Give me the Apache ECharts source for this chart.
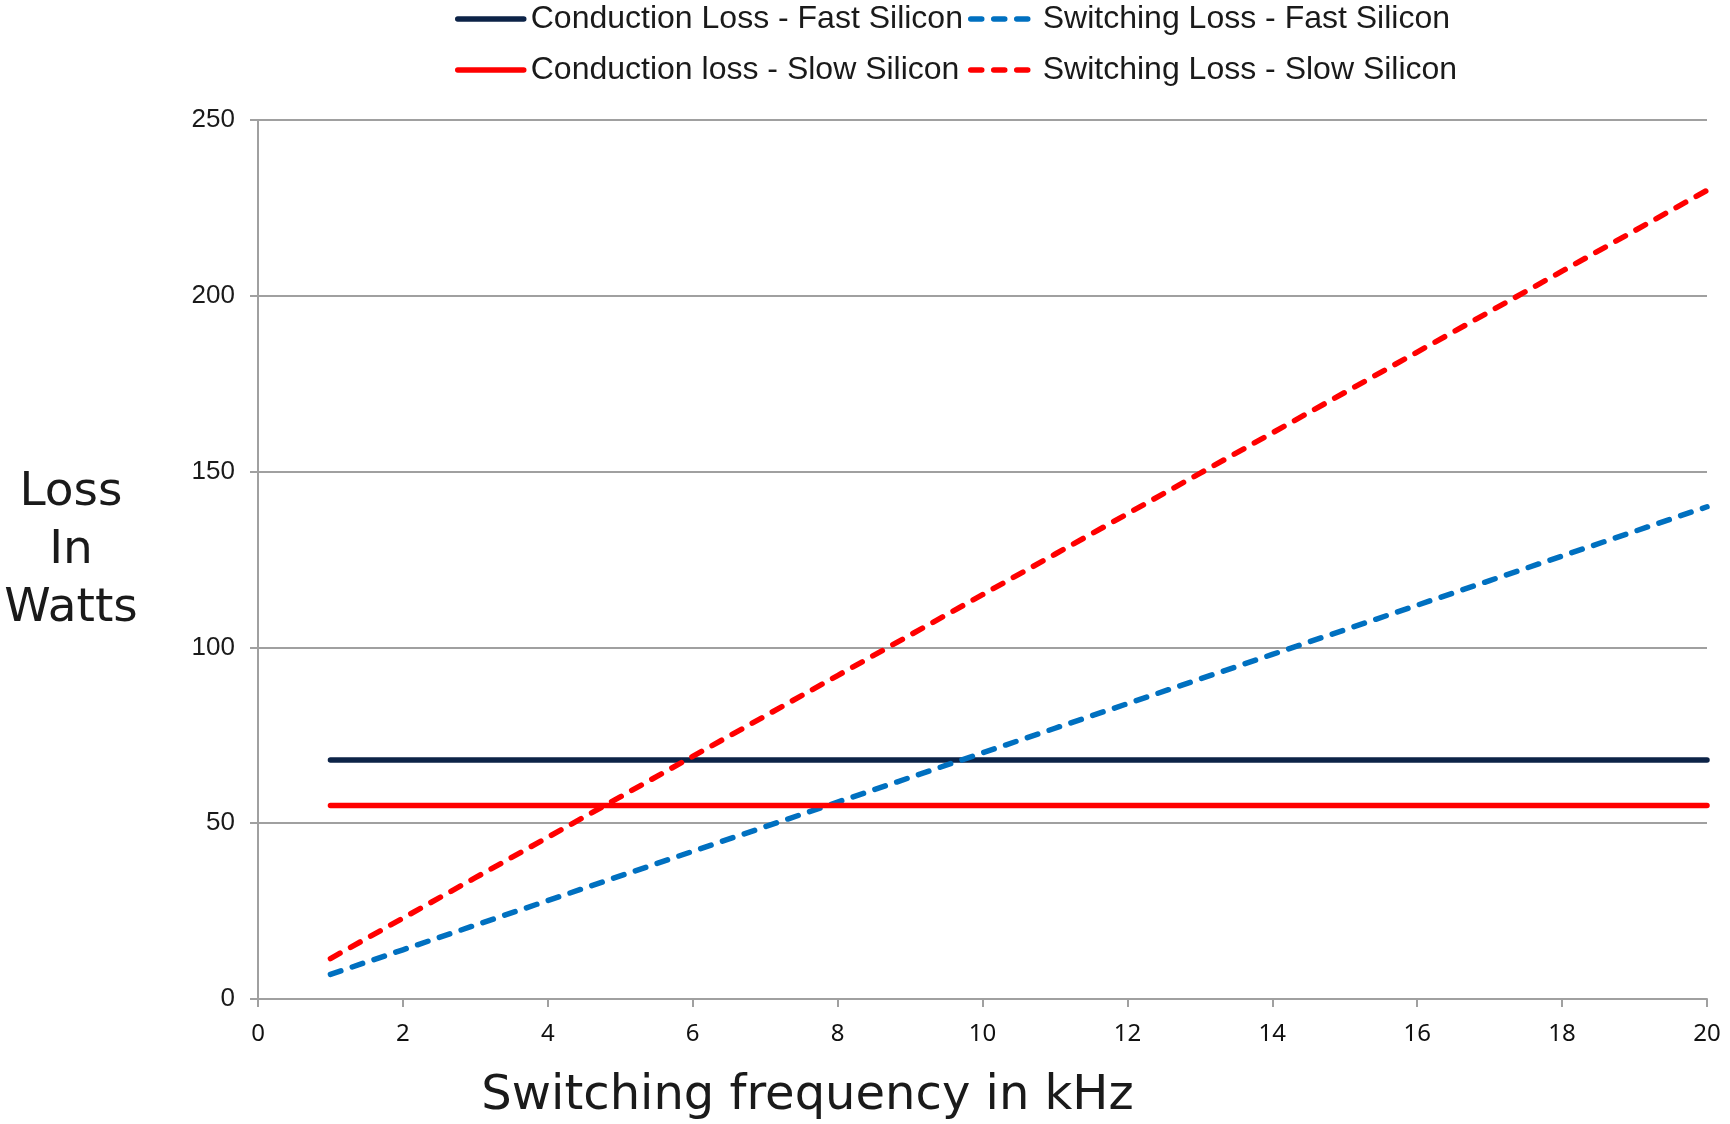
<!DOCTYPE html>
<html>
<head>
<meta charset="utf-8">
<script src="https://cdn.jsdelivr.net/npm/echarts@6/dist/echarts.min.js"></script>
<style>
  html, body { margin: 0; padding: 0; background: #ffffff; }
  #chart { width: 1730px; height: 1124px; }
</style>
</head>
<body>
<div id="chart"></div>
<script>
// Switching frequency (kHz)
const frequency = [1, 2, 3, 4, 5, 6, 7, 8, 9, 10, 11, 12, 13, 14, 15, 16, 17, 18, 19, 20];

// Losses in watts
const conductionFast = [68, 68, 68, 68, 68, 68, 68, 68, 68, 68, 68, 68, 68, 68, 68, 68, 68, 68, 68, 68];
const conductionSlow = [55, 55, 55, 55, 55, 55, 55, 55, 55, 55, 55, 55, 55, 55, 55, 55, 55, 55, 55, 55];
const switchingFast = [7, 14, 21, 28, 35, 42, 49, 56, 63, 70, 77, 84, 91, 98, 105, 112, 119, 126, 133, 140];
const switchingSlow = [11.5, 23, 34.5, 46, 57.5, 69, 80.5, 92, 103.5, 115, 126.5, 138, 149.5, 161, 172.5, 184, 195.5, 207, 218.5, 230];

const seriesNames = [
  'Conduction Loss - Fast Silicon',
  'Switching Loss - Fast Silicon',
  'Conduction loss - Slow Silicon',
  'Switching Loss - Slow Silicon'
];

const xTicks = { min: 0, max: 20, interval: 2 };
const yTicks = { min: 0, max: 250, interval: 50 };

const xTitle = 'Switching frequency in kHz';
const yTitle = 'Loss\nIn\nWatts';

const pairs = (ys) => frequency.map((f, i) => [f, ys[i]]);

const chart = echarts.init(document.getElementById('chart'), null, { renderer: 'canvas' });

// one legend per key so each column lines up; solid keys are longer than dashed keys
function legendItem(name, left, top, keyWidth, textGap) {
  return {
    data: [name],
    left: left, top: top,
    padding: 0,
    itemWidth: keyWidth, itemHeight: 30,
    textStyle: {
      fontFamily: '"Liberation Sans", Arial, sans-serif',
      fontSize: 32, color: '#1a1a1a',
      padding: [0, 0, 0, textGap]
    },
    itemStyle: { opacity: 0 },
    lineStyle: { width: 5.5, cap: 'round' }
  };
}

function lineSeries(name, data, color, dashed) {
  return {
    name: name,
    type: 'line',
    data: data,
    symbol: 'none',
    silent: true,
    lineStyle: {
      color: color,
      width: 5.5,
      type: dashed ? [11, 12] : 'solid',
      cap: 'round'
    },
    itemStyle: { color: color },
    z: 3
  };
}

chart.setOption({
  animation: false,
  backgroundColor: '#ffffff',
  legend: [
    legendItem(seriesNames[0], 455, 3, 66, 2),
    legendItem(seriesNames[1], 968, 3, 57, 10),
    legendItem(seriesNames[2], 455, 54, 66, 2),
    legendItem(seriesNames[3], 968, 54, 57, 10)
  ],
  graphic: [
    {
      type: 'text',
      x: 71, y: 551,
      style: {
        text: yTitle,
        align: 'center',
        verticalAlign: 'middle',
        fontFamily: '"DejaVu Sans", Verdana, sans-serif',
        fontSize: 47,
        lineHeight: 58,
        fill: '#1a1a1a'
      }
    }
  ],
  grid: { left: 258, right: 23, top: 120, bottom: 125, containLabel: false, outerBoundsMode: 'none' },
  xAxis: {
    type: 'value',
    min: xTicks.min, max: xTicks.max, interval: xTicks.interval,
    name: xTitle,
    nameLocation: 'middle',
    nameGap: 98,
    nameTextStyle: {
      fontFamily: '"DejaVu Sans", Verdana, sans-serif',
      fontSize: 48, color: '#1a1a1a',
      align: 'center', verticalAlign: 'middle',
      padding: [0, 350, 0, 0]
    },
    axisLine: { show: true, onZero: false, lineStyle: { color: '#a0a0a0', width: 2 } },
    axisTick: { show: true, inside: false, length: 8, lineStyle: { color: '#a0a0a0', width: 2 } },
    axisLabel: {
      margin: 23,
      fontFamily: '"Noto Sans", "Open Sans", sans-serif',
      fontSize: 24, color: '#111111'
    },
    splitLine: { show: false }
  },
  yAxis: {
    type: 'value',
    min: yTicks.min, max: yTicks.max, interval: yTicks.interval,
    axisLine: { show: true, lineStyle: { color: '#a0a0a0', width: 2 } },
    axisTick: { show: true, inside: false, length: 8, lineStyle: { color: '#a0a0a0', width: 2 } },
    axisLabel: {
      margin: 23,
      fontFamily: '"Liberation Sans", Arial, sans-serif',
      fontSize: 26, color: '#1a1a1a'
    },
    splitLine: { show: true, lineStyle: { color: '#a0a0a0', width: 2 } }
  },
  series: [
    lineSeries(seriesNames[0], pairs(conductionFast), '#0c2347', false),
    lineSeries(seriesNames[1], pairs(switchingFast), '#0070c0', true),
    lineSeries(seriesNames[2], pairs(conductionSlow), '#ff0000', false),
    lineSeries(seriesNames[3], pairs(switchingSlow), '#ff0000', true)
  ]
});
</script>
</body>
</html>
